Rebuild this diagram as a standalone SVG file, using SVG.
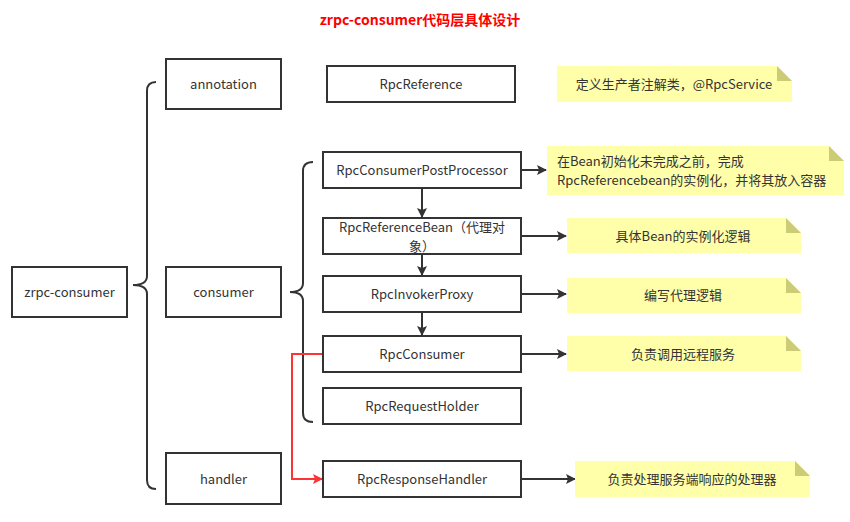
<svg xmlns="http://www.w3.org/2000/svg" width="850" height="522" viewBox="0 0 850 522">
<defs>
<style>
text{font-family:"Noto Sans CJK SC","Noto Sans",sans-serif;font-size:13px;fill:#333333;}
.t{text-anchor:middle;dominant-baseline:central;}
.box{fill:#ffffff;stroke:#333333;stroke-width:2;}
.note{fill:#ffffaa;}
.fold{fill:#cccc77;}
.ln{fill:none;stroke:#333333;stroke-width:2;}
.red{fill:none;stroke:#ff3333;stroke-width:2;}
.title{font-size:14px;font-weight:bold;fill:#ff0000;}
</style>
<marker id="ah" markerWidth="10" markerHeight="10" refX="9" refY="5" orient="auto" markerUnits="userSpaceOnUse">
<path d="M0,0 L10,5 L0,10 L2,5 Z" fill="#333333"/>
</marker>
<marker id="ahr" markerWidth="10" markerHeight="10" refX="9" refY="5" orient="auto" markerUnits="userSpaceOnUse">
<path d="M0,0 L10,5 L0,10 L2,5 Z" fill="#ff3333"/>
</marker>
</defs>
<rect width="850" height="522" fill="#ffffff"/>
<text class="t title" x="420" y="19">zrpc-consumer代码层具体设计</text>

<g id="connectors">
<path class="ln" d="M156,82 Q147,82 147,91 L147,276 Q147,285 133,285 Q147,285 147,294 L147,480 Q147,489 156,489"/>
<path class="ln" d="M313,162 Q303,162 303,171 L303,283 Q303,292 290,292 Q303,292 303,301 L303,413 Q303,422 313,422"/>
<line class="ln" x1="422" y1="188" x2="422" y2="217" marker-end="url(#ah)"/>
<line class="ln" x1="422" y1="254" x2="422" y2="275" marker-end="url(#ah)"/>
<line class="ln" x1="422" y1="312" x2="422" y2="335" marker-end="url(#ah)"/>
<line class="ln" x1="521" y1="170" x2="546" y2="170" marker-end="url(#ah)"/>
<line class="ln" x1="521" y1="236" x2="566" y2="236" marker-end="url(#ah)"/>
<line class="ln" x1="521" y1="294" x2="566" y2="294" marker-end="url(#ah)"/>
<line class="ln" x1="521" y1="354" x2="566" y2="354" marker-end="url(#ah)"/>
<line class="ln" x1="521" y1="479" x2="575" y2="479" marker-end="url(#ah)"/>
<path class="red" d="M323,354 L292,354 L292,479 L322,479" marker-end="url(#ahr)"/>
</g>

<g id="zrpc-consumer"><rect class="box" x="12" y="267" width="115" height="50"/><text class="t" x="69.5" y="291">zrpc-consumer</text></g>
<g id="annotation"><rect class="box" x="166" y="59" width="115" height="50"/><text class="t" x="223.5" y="83">annotation</text></g>
<g id="consumer"><rect class="box" x="166" y="267" width="115" height="50"/><text class="t" x="223.5" y="291">consumer</text></g>
<g id="handler"><rect class="box" x="166" y="453" width="115" height="51"/><text class="t" x="223.5" y="478">handler</text></g>

<g id="RpcReference"><rect class="box" x="327" y="66" width="188" height="36"/><text class="t" x="421" y="83">RpcReference</text></g>
<g id="RpcConsumerPostProcessor"><rect class="box" x="323" y="152" width="198" height="36"/><text class="t" x="422" y="169">RpcConsumerPostProcessor</text></g>
<g id="RpcReferenceBean"><rect class="box" x="323" y="218" width="198" height="36"/><text class="t" x="422" y="226">RpcReferenceBean（代理对</text><text class="t" x="422" y="245">象）</text></g>
<g id="RpcInvokerProxy"><rect class="box" x="323" y="276" width="198" height="36"/><text class="t" x="422" y="293">RpcInvokerProxy</text></g>
<g id="RpcConsumer"><rect class="box" x="323" y="336" width="198" height="36"/><text class="t" x="422" y="353">RpcConsumer</text></g>
<g id="RpcRequestHolder"><rect class="box" x="323" y="388" width="198" height="36"/><text class="t" x="422" y="405">RpcRequestHolder</text></g>
<g id="RpcResponseHandler"><rect class="box" x="323" y="461" width="198" height="36"/><text class="t" x="422" y="478">RpcResponseHandler</text></g>

<g id="note1"><path class="note" d="M557,66 L777,66 L792,81 L792,102 L557,102 Z"/><path class="fold" d="M777,66 L792,81 L777,81 Z"/><text class="t" x="674" y="83">定义生产者注解类，@RpcService</text></g>
<g id="note2"><path class="note" d="M547,146 L829,146 L844,161 L844,195 L547,195 Z"/><path class="fold" d="M829,146 L844,161 L829,161 Z"/><text x="557" y="160" dominant-baseline="central">在Bean初始化未完成之前，完成</text><text x="557" y="179" dominant-baseline="central">RpcReferencebean的实例化，并将其放入容器</text></g>
<g id="note3"><path class="note" d="M567,218 L786,218 L801,233 L801,253 L567,253 Z"/><path class="fold" d="M786,218 L801,233 L786,233 Z"/><text class="t" x="683" y="235">具体Bean的实例化逻辑</text></g>
<g id="note4"><path class="note" d="M567,278 L786,278 L801,293 L801,313 L567,313 Z"/><path class="fold" d="M786,278 L801,293 L786,293 Z"/><text class="t" x="683" y="294">编写代理逻辑</text></g>
<g id="note5"><path class="note" d="M567,336 L786,336 L801,351 L801,371 L567,371 Z"/><path class="fold" d="M786,336 L801,351 L786,351 Z"/><text class="t" x="683" y="353">负责调用远程服务</text></g>
<g id="note6"><path class="note" d="M575,461 L795,461 L810,476 L810,497 L575,497 Z"/><path class="fold" d="M795,461 L810,476 L795,476 Z"/><text class="t" x="692" y="478">负责处理服务端响应的处理器</text></g>
</svg>
